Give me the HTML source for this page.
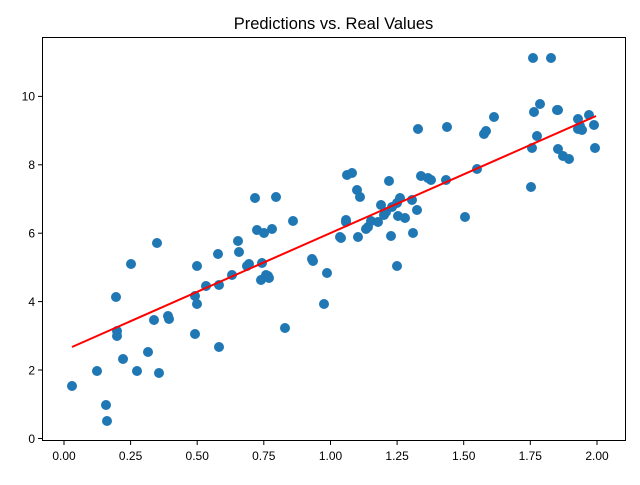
<!DOCTYPE html><html><head><style>body{margin:0;background:#fff}svg{font-family:"Liberation Sans",sans-serif}</style></head><body>
<svg width="640" height="480" xmlns="http://www.w3.org/2000/svg">
<rect width="640" height="480" fill="#fff"/>
<text x="333.5" y="29" font-size="16.5" text-anchor="middle">Predictions vs. Real Values</text>
<g fill="#1f77b4" id="pts"></g>
<line x1="72" y1="347" x2="596" y2="116" stroke="#f00" stroke-width="2"/>
<rect x="42.5" y="37.5" width="583" height="403" fill="none" stroke="#000" stroke-width="1"/>
<g stroke="#000" stroke-width="1">
<line x1="64" y1="441" x2="64" y2="445"/><line x1="130.6" y1="441" x2="130.6" y2="445"/><line x1="197.2" y1="441" x2="197.2" y2="445"/><line x1="263.8" y1="441" x2="263.8" y2="445"/><line x1="330.5" y1="441" x2="330.5" y2="445"/><line x1="397.1" y1="441" x2="397.1" y2="445"/><line x1="463.7" y1="441" x2="463.7" y2="445"/><line x1="530.3" y1="441" x2="530.3" y2="445"/><line x1="597" y1="441" x2="597" y2="445"/>
<line x1="38" y1="438.5" x2="42" y2="438.5"/><line x1="38" y1="370" x2="42" y2="370"/><line x1="38" y1="301.6" x2="42" y2="301.6"/><line x1="38" y1="233.2" x2="42" y2="233.2"/><line x1="38" y1="164.8" x2="42" y2="164.8"/><line x1="38" y1="96.4" x2="42" y2="96.4"/>
</g>
<g font-size="12" text-anchor="middle">
<text x="64" y="460">0.00</text><text x="130.6" y="460">0.25</text><text x="197.2" y="460">0.50</text><text x="263.8" y="460">0.75</text><text x="330.5" y="460">1.00</text><text x="397.1" y="460">1.25</text><text x="463.7" y="460">1.50</text><text x="530.3" y="460">1.75</text><text x="597" y="460">2.00</text>
</g>
<g font-size="12" text-anchor="end">
<text x="35" y="443">0</text><text x="35" y="374.5">2</text><text x="35" y="306">4</text><text x="35" y="237.5">6</text><text x="35" y="169">8</text><text x="35" y="100.5">10</text>
</g>
</svg>
<script>
var p=[[72,386],[97,371],[106,405],[107,421],[116,297],[117,331],[117,336],[123,359],[131,264],[137,371],[148,352],[154,320],[157,243],[159,373],[168,316],[169,319],[195,334],[195,296],[197,304],[197,266],[206,286],[219,347],[218,254],[219,285],[232,275],[238,241],[239,252],[247,266],[249,264],[255,198],[257,230],[262,263],[261,280],[264,233],[266,275],[268,276],[269,278],[272,229],[276,197],[285,328],[293,221],[312,259],[313,261],[327,273],[324,304],[340,237],[341,238],[346,222],[347,175],[346,220],[352,173],[357,190],[358,237],[360,197],[366,229],[368,227],[371,221],[378,222],[381,205],[384,215],[386,212],[391,236],[389,181],[392,207],[397,266],[398,216],[397,203],[400,198],[405,218],[412,200],[413,233],[417,210],[418,129],[421,176],[428,178],[431,180],[447,127],[446,180],[465,217],[477,169],[484,134],[486,131],[494,117],[531,187],[532,148],[533,58],[534,112],[537,136],[540,104],[551,58],[557,110],[558,110],[558,149],[563,156],[569,159],[578,129],[578,119],[580,126],[582,130],[589,115],[594,125],[595,148]];
var g=document.getElementById('pts'),s='';p.forEach(function(a){s+='<circle cx="'+a[0]+'" cy="'+a[1]+'" r="5"/>';});g.innerHTML=s;
</script>
</body></html>
